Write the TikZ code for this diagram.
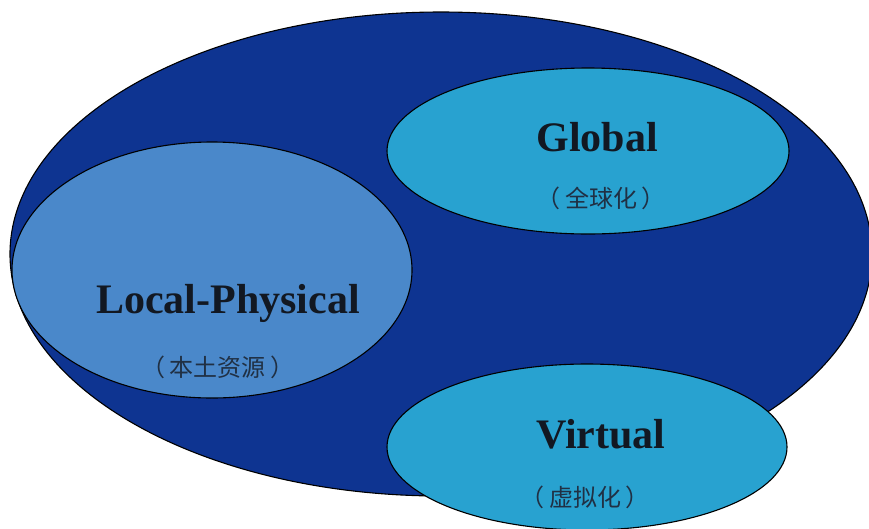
\documentclass[tikz,border=0pt]{standalone}
\usepackage{fontspec}
\setmainfont{Liberation Serif}
\newfontfamily\cjk{Noto Sans CJK SC}
\usetikzlibrary{shapes.geometric}
\definecolor{bigblue}{RGB}{14,52,145}
\definecolor{localblue}{RGB}{74,136,202}
\definecolor{cyanblue}{RGB}{40,162,208}
\definecolor{inktext}{RGB}{18,24,34}
\definecolor{cjktext}{RGB}{32,48,68}
\newcommand{\pgap}{\hspace{5pt}}
\tikzset{
  blob/.style={ellipse, draw=black, line width=1.1pt, inner sep=0pt},
  titletext/.style={font=\fontsize{42}{42}\selectfont\bfseries, text=inktext, inner sep=0pt, anchor=center},
  subtext/.style={font=\cjk\fontsize{24}{24}\selectfont, text=cjktext, inner sep=0pt, anchor=center}
}
\begin{document}
\begin{tikzpicture}[x=1pt,y=-1pt]
\useasboundingbox (0,0) rectangle (869,528);
\fill[white] (0,0) rectangle (869,528);
\node[blob, fill=bigblue, minimum width=862pt, minimum height=484pt] (outer) at (441,254) {};
\node[blob, fill=localblue, minimum width=400pt, minimum height=256pt] (local) at (212,270) {};
\node[blob, fill=cyanblue, minimum width=402pt, minimum height=166pt] (global) at (588,151) {};
\node[blob, fill=cyanblue, minimum width=400pt, minimum height=166pt] (virtual) at (587,447) {};
\node[titletext] (localT) at (228,303) {Local-Physical};
\node[subtext] (localS) at (218,367) {（\pgap 本土资源\pgap ）};
\node[titletext] (globalT) at (597,137) {Global};
\node[subtext] (globalS) at (601,198) {（\pgap 全球化\pgap ）};
\node[titletext] (virtualT) at (601,434) {Virtual};
\node[subtext] (virtualS) at (585,497) {（\pgap 虚拟化\pgap ）};
\end{tikzpicture}
\end{document}
